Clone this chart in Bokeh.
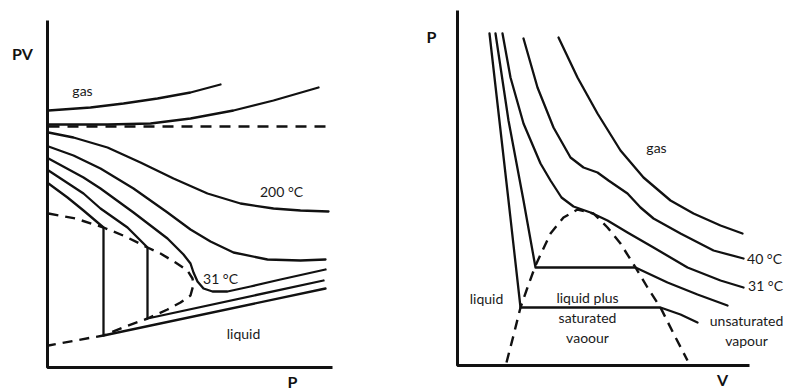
from bokeh.plotting import figure
from bokeh.models import Range1d, ColumnDataSource
from bokeh.core.properties import value
from bokeh.embed import file_html
from bokeh.resources import INLINE

# ---------------- data (schematic coordinates, y grows downward) ----------------
# Left panel: PV vs P (Andrews' isotherms)
left_gas_top_x = [48, 90, 123, 157, 190, 220]
left_gas_top_y = [110, 107, 103, 98, 92, 84]
left_gas_2_x = [48, 107, 150, 190, 233, 273, 318]
left_gas_2_y = [124, 124, 123, 118, 110, 100, 87]
left_ideal_x = [48, 328]
left_ideal_y = [126, 126]
left_200_x = [48, 73, 107, 140, 173, 207, 240, 273, 300, 328]
left_200_y = [132, 137, 147, 162, 178, 193, 203, 208, 210, 211]
left_iso_d_x = [48, 73, 100, 133, 167, 190, 210, 233, 267, 300, 325]
left_iso_d_y = [146, 155, 168, 188, 212, 229, 241, 252, 259, 260, 259]
left_31_x = [48, 83, 100, 133, 167, 183, 190, 193, 197, 203, 212, 227, 250, 280, 325]
left_31_y = [158, 177, 188, 212, 238, 254, 263, 272, 281, 288, 291, 291, 286, 279, 269]
left_iso_f_x = [48, 83, 100, 127, 147, 147, 323]
left_iso_f_y = [170, 193, 208, 227, 247, 318, 280]
left_iso_g_x = [48, 67, 83, 103, 103, 325]
left_iso_g_y = [183, 197, 210, 227, 335, 288]
left_dome_x = [48, 75, 103, 125, 147, 160, 175, 187, 192, 193, 190, 180, 167, 147, 125, 103, 75, 48]
left_dome_y = [213, 218, 227, 236, 247, 253, 262, 270, 278, 284, 295, 302, 309, 318, 326, 335, 340, 345]
left_axis_x = [47, 47, 332]
left_axis_y = [20, 367, 367]
left_labels = ["gas", "200 \u00b0C", "31 \u00b0C", "liquid"]
left_label_x = [82, 281, 220, 243]
left_label_y = [90, 191, 278, 333]

# Right panel: P vs V
right_iso_1_x = [489, 508, 520, 660, 680, 697]
right_iso_1_y = [33, 200, 307, 307, 314, 322]
right_iso_2_x = [495, 508, 523, 535, 635, 667, 697, 727]
right_iso_2_y = [33, 120, 200, 267, 267, 282, 294, 305]
right_31_x = [502, 510, 523, 540, 550, 561, 573, 590, 607, 627, 653, 687, 720, 743]
right_31_y = [33, 77, 123, 163, 180, 197, 206, 212, 220, 232, 247, 267, 280, 287]
right_40_x = [523, 537, 553, 570, 583, 597, 608, 627, 640, 653, 680, 713, 743]
right_40_y = [38, 87, 127, 157, 167, 172, 180, 193, 207, 218, 233, 250, 258]
right_top_x = [558, 577, 597, 620, 643, 670, 693, 720, 742]
right_top_y = [37, 77, 113, 150, 177, 200, 213, 225, 233]
right_dome_x = [506, 513, 520, 527, 535, 550, 563, 577, 593, 607, 620, 635, 647, 660, 673, 687]
right_dome_y = [362, 335, 307, 287, 265, 233, 217, 209, 213, 227, 243, 267, 287, 307, 333, 360]
right_axis_x = [457, 457, 749]
right_axis_y = [10, 365, 365]
right_labels = ["gas", "40 \u00b0C", "31 \u00b0C", "liquid", "liquid plus", "saturated", "vaoour",
                "unsaturated", "vapour"]
right_label_x = [656, 764, 765, 486, 587, 587, 587, 746, 746]
right_label_y = [147, 258, 285, 298, 297, 317, 337, 320, 340]

axis_titles = ["PV", "P", "P", "V"]
axis_title_x = [22, 292, 431, 722]
axis_title_y = [53, 381, 36, 379]

# ---------------- figure ----------------
p = figure(width=788, height=390, output_backend="svg", toolbar_location=None,
           x_range=Range1d(0, 788), y_range=Range1d(390, 0), min_border=0)
p.axis.visible = False
p.grid.visible = False
p.outline_line_color = None
p.background_fill_color = "white"

INK = "#111111"
LW = 2.3

solid = [
    (left_gas_top_x, left_gas_top_y), (left_gas_2_x, left_gas_2_y),
    (left_200_x, left_200_y), (left_iso_d_x, left_iso_d_y), (left_31_x, left_31_y),
    (left_iso_f_x, left_iso_f_y), (left_iso_g_x, left_iso_g_y),
    (right_iso_1_x, right_iso_1_y), (right_iso_2_x, right_iso_2_y),
    (right_31_x, right_31_y), (right_40_x, right_40_y), (right_top_x, right_top_y),
]
for xs, ys in solid:
    p.line(xs, ys, line_color=INK, line_width=LW, line_join="round", line_cap="round")

for xs, ys in [(left_axis_x, left_axis_y), (right_axis_x, right_axis_y)]:
    p.line(xs, ys, line_color=INK, line_width=3)

p.line(left_ideal_x, left_ideal_y, line_color=INK, line_width=2.6, line_dash="11 8")
p.line(left_dome_x, left_dome_y, line_color=INK, line_width=2.4, line_dash="10 7")
p.line(right_dome_x, right_dome_y, line_color=INK, line_width=2.4, line_dash="10 7")

lab = ColumnDataSource(dict(x=left_label_x + right_label_x,
                            y=left_label_y + right_label_y,
                            t=left_labels + right_labels))
p.text("x", "y", text="t", source=lab, text_align="center", text_baseline="middle",
       text_font=value("Lato"), text_font_size="14px", text_color="#1a1a1a")

tit = ColumnDataSource(dict(x=axis_title_x, y=axis_title_y, t=axis_titles))
p.text("x", "y", text="t", source=tit, text_align="center", text_baseline="middle",
       text_font=value("Lato"), text_font_size="16px", text_font_style="bold",
       text_color="#111111")

open("out.html", "w").write(file_html(p, INLINE))
